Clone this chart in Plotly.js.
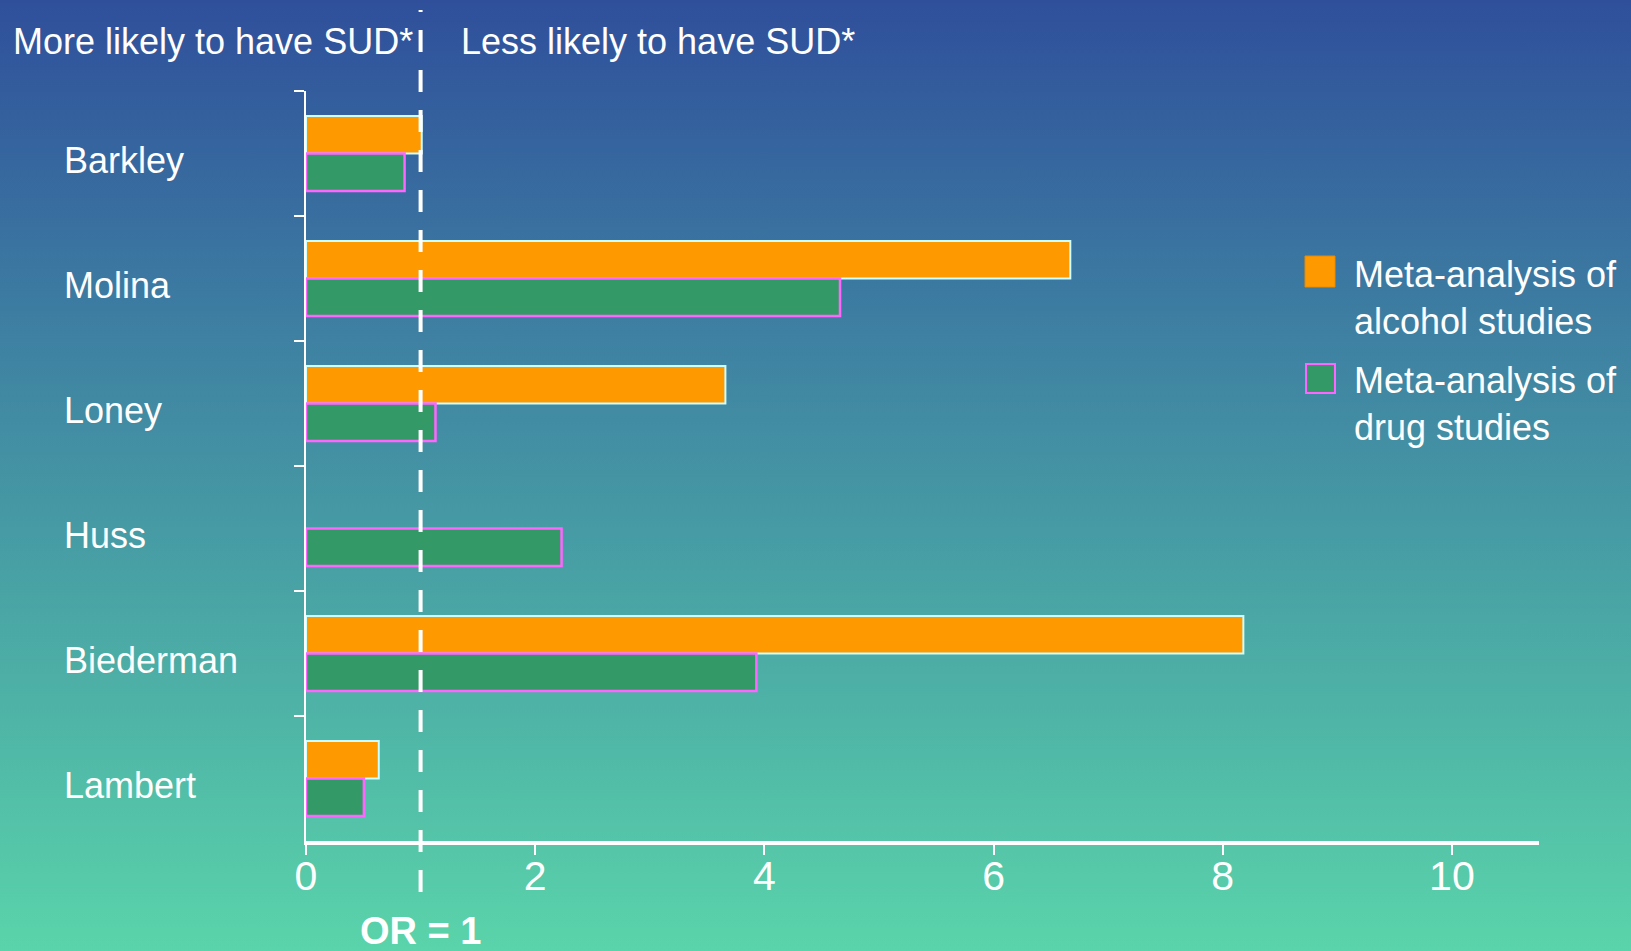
<!DOCTYPE html>
<html>
<head>
<meta charset="utf-8">
<script src="https://cdn.plot.ly/plotly-3.0.1.min.js"></script>
<style>
  html, body { margin: 0; padding: 0; }
  #chart {
    width: 1631px;
    height: 951px;
    background: linear-gradient(to bottom, #2f4f9b 0%, #3e80a2 35%, #4aa7a5 65%, #5ad4aa 100%);
  }
</style>
</head>
<body>
<div id="chart"></div>
<script>
// Odds ratios for substance use disorder by study
const studies = ['Barkley', 'Molina', 'Loney', 'Huss', 'Biederman', 'Lambert'];
const alcoholOR = [1.01, 6.67, 3.66, null, 8.18, 0.635];
const drugOR = [0.86, 4.66, 1.13, 2.23, 3.93, 0.505];
const seriesNames = ['Meta-analysis of<br>alcohol studies', 'Meta-analysis of<br>drug studies'];
const xTickValues = [0, 2, 4, 6, 8, 10];
const sideLabels = ['More likely to have SUD*', 'Less likely to have SUD*'];
const referenceOR = 1;
const referenceLabel = 'OR = 1';

const FONT = '"Liberation Sans", Arial, Helvetica, sans-serif';
const W = 1631, H = 951;
const M = { l: 306, r: 92, t: 91, b: 110 };
const plotW = W - M.l - M.r;
const plotH = H - M.t - M.b;
// pixel position -> paper fraction helpers for decorations
const px = x => (x - M.l) / plotW;
const py = y => (H - M.b - y) / plotH;

const ORANGE = '#ff9900', GREEN = '#339966';
const ORANGE_EDGE = '#ccffff', GREEN_EDGE = '#ff66ff';

const traces = [
  {
    type: 'bar', orientation: 'h', name: seriesNames[0],
    y: studies, x: alcoholOR,
    marker: { color: ORANGE, line: { color: ORANGE_EDGE, width: 2 } },
    hoverinfo: 'skip', showlegend: false
  },
  {
    type: 'bar', orientation: 'h', name: seriesNames[1],
    y: studies, x: drugOR,
    marker: { color: GREEN, line: { color: GREEN_EDGE, width: 2.5 } },
    hoverinfo: 'skip', showlegend: false
  }
];

const white = '#ffffff';
const annotations = [];

// study names, left aligned at the left edge
studies.forEach(s => {
  annotations.push({
    xref: 'paper', yref: 'y', x: px(62), y: s, yshift: -7,
    xanchor: 'left', yanchor: 'middle', showarrow: false,
    text: s, font: { family: FONT, size: 36, color: white }
  });
});

// headers on either side of the reference line
[[11, sideLabels[0]], [459, sideLabels[1]]].forEach(([x, t]) => {
  annotations.push({
    xref: 'paper', yref: 'paper', x: px(x), y: py(41),
    xanchor: 'left', yanchor: 'middle', showarrow: false,
    text: t, font: { family: FONT, size: 36, color: white }
  });
});

// reference line label
annotations.push({
  xref: 'x', yref: 'paper', x: referenceOR, y: py(931),
  xanchor: 'center', yanchor: 'middle', showarrow: false,
  text: '<b>' + referenceLabel + '</b>', font: { family: FONT, size: 38, color: white }
});

// legend text
[[298, seriesNames[0]], [404, seriesNames[1]]].forEach(([y, t]) => {
  annotations.push({
    xref: 'paper', yref: 'paper', x: px(1352), y: py(y),
    xanchor: 'left', yanchor: 'middle', align: 'left', showarrow: false,
    text: t, font: { family: FONT, size: 36, color: white }
  });
});

const shapes = [
  // OR = 1 dashed reference line
  {
    type: 'line', xref: 'x', yref: 'paper',
    x0: referenceOR, x1: referenceOR, y0: py(892), y1: py(10),
    line: { color: white, width: 4, dash: '22px,18px' }, layer: 'above'
  },
  // legend swatches
  {
    type: 'rect', xref: 'paper', yref: 'paper',
    x0: px(1305), x1: px(1335), y0: py(287), y1: py(256),
    fillcolor: ORANGE, line: { color: '#e88a00', width: 1 }
  },
  {
    type: 'rect', xref: 'paper', yref: 'paper',
    x0: px(1306), x1: px(1335), y0: py(393), y1: py(364),
    fillcolor: GREEN, line: { color: GREEN_EDGE, width: 2 }
  }
];

const layout = {
  width: W, height: H,
  margin: M,
  paper_bgcolor: 'rgba(0,0,0,0)',
  plot_bgcolor: 'rgba(0,0,0,0)',
  barmode: 'group', bargap: 0.4, bargroupgap: 0,
  showlegend: false,
  font: { family: FONT, color: white },
  xaxis: {
    range: [0, 10.76], tickvals: xTickValues, ticktext: xTickValues.map(String),
    ticks: 'outside', ticklen: 10, tickwidth: 2, tickcolor: white,
    showline: true, linewidth: 4, linecolor: white,
    showgrid: false, zeroline: false,
    tickfont: { family: FONT, size: 41, color: white },
    ticklabelstandoff: -14
  },
  yaxis: {
    type: 'category', categoryorder: 'array', categoryarray: studies,
    autorange: 'reversed',
    showline: true, linewidth: 2, linecolor: white,
    ticks: 'outside', tickson: 'boundaries', ticklen: 10, tickwidth: 2, tickcolor: white,
    showticklabels: false, showgrid: false, zeroline: false
  },
  shapes: shapes,
  annotations: annotations
};

Plotly.newPlot('chart', traces, layout, { staticPlot: true, displayModeBar: false });
</script>
</body>
</html>
